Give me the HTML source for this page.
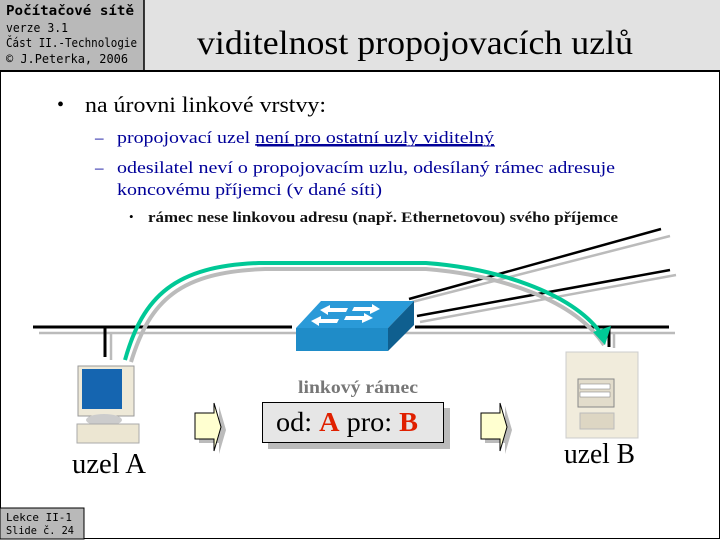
<!DOCTYPE html>
<html><head><meta charset="utf-8"><style>
html,body{margin:0;padding:0;background:#fff}
svg{display:block}
</style></head><body>
<svg width="720" height="540" xmlns="http://www.w3.org/2000/svg" font-family="Liberation Serif, serif">
<rect x="0" y="0" width="720" height="540" fill="#fff"/>
<rect x="0.5" y="0.5" width="719" height="538" fill="none" stroke="#000"/>
<rect x="0" y="0" width="720" height="71" fill="#e2e2e2"/>
<rect x="0" y="0" width="144" height="71" fill="#b9b9b9"/>
<line x1="144" y1="0" x2="144" y2="71" stroke="#000" stroke-width="1.5"/>
<line x1="0" y1="71" x2="720" y2="71" stroke="#000" stroke-width="2"/>
<g font-family="DejaVu Sans Mono, Liberation Mono, monospace" fill="#000">
<text x="6" y="15" font-size="13" font-weight="bold" textLength="128" lengthAdjust="spacingAndGlyphs">Počítačové sítě</text>
<text x="6" y="32" font-size="12" textLength="62" lengthAdjust="spacingAndGlyphs">verze 3.1</text>
<text x="6" y="47" font-size="12" textLength="131" lengthAdjust="spacingAndGlyphs">Část II.-Technologie</text>
<text x="6" y="63" font-size="12" textLength="122" lengthAdjust="spacingAndGlyphs">© J.Peterka, 2006</text>
</g>
<text x="197" y="54" font-size="34" textLength="436" lengthAdjust="spacingAndGlyphs">viditelnost propojovacích uzlů</text>

<text x="57" y="111" font-size="20">•</text>
<text x="85" y="112" font-size="22" textLength="241" lengthAdjust="spacingAndGlyphs">na úrovni linkové vrstvy:</text>
<g fill="#000099" font-size="17">
<text x="95" y="143">–</text>
<text x="117" y="143" textLength="377" lengthAdjust="spacingAndGlyphs">propojovací uzel <tspan text-decoration="underline">není pro ostatní uzly viditelný</tspan></text>
<line x1="257" y1="146" x2="495" y2="146" stroke="#000099" stroke-width="1"/>
<text x="95" y="173">–</text>
<text x="117" y="173" textLength="498" lengthAdjust="spacingAndGlyphs">odesilatel neví o propojovacím uzlu, odesílaný rámec adresuje</text>
<text x="117" y="195" textLength="265" lengthAdjust="spacingAndGlyphs">koncovému příjemci (v dané síti)</text>
</g>
<text x="129" y="221" font-size="13">•</text>
<text x="148" y="222" font-size="15" font-weight="bold" textLength="470" lengthAdjust="spacingAndGlyphs" fill="#111">rámec nese linkovou adresu (např. Ethernetovou) svého příjemce</text>

<line x1="412" y1="302" x2="670" y2="236" stroke="#bbb" stroke-width="2.5"/>
<line x1="420" y1="322" x2="676" y2="275" stroke="#bbb" stroke-width="2.5"/>
<line x1="409" y1="299" x2="661" y2="229" stroke="#000" stroke-width="2.5"/>
<line x1="417" y1="316" x2="670" y2="270" stroke="#000" stroke-width="2.5"/>
<line x1="39" y1="333" x2="675" y2="333" stroke="#bbb" stroke-width="2.5"/>
<line x1="33" y1="327" x2="292" y2="327" stroke="#000" stroke-width="3"/>
<line x1="415" y1="327" x2="669" y2="327" stroke="#000" stroke-width="3"/>
<line x1="111" y1="333" x2="111" y2="360" stroke="#bbb" stroke-width="2.5"/>
<line x1="105" y1="327" x2="105" y2="357" stroke="#000" stroke-width="3"/>
<line x1="614" y1="333" x2="614" y2="348" stroke="#bbb" stroke-width="2.5"/>
<line x1="609" y1="327" x2="609" y2="347" stroke="#000" stroke-width="3"/>

<path d="M131 362 C150 300 180 272 265 269 L426 269 C500 275 575 300 604 345" fill="none" stroke="#bbb" stroke-width="4"/>
<path d="M125 360 C143 296 175 266 259 263 L426 263 C495 268 570 292 600 332" fill="none" stroke="#00c896" stroke-width="4"/>
<polygon points="593,332 611,326 605,345" fill="#00c896"/>

<polygon points="321,301 414,301 388,328 296,328" fill="#2a9ad8"/>
<rect x="296" y="328" width="92" height="23" fill="#1f8cc8"/>
<polygon points="388,328 414,301 414,325 388,351" fill="#0f5f8f"/>
<g fill="#fff">
<polygon points="320,310 330,305 330,308 348,308 346,312 328,312 328,315"/>
<polygon points="380,309 370,314 370,311 352,311 354,307 372,307 372,304"/>
<polygon points="311,321 321,316 321,319 339,319 337,323 319,323 319,326"/>
<polygon points="373,318 362,323 362,320 344,320 346,316 364,316 364,313"/>
</g>

<g>
<rect x="78" y="366" width="56" height="50" fill="#eee9d8" stroke="#999"/>
<rect x="82" y="369" width="40" height="40" fill="#1565b0"/>
<ellipse cx="104" cy="420" rx="18" ry="6" fill="#ccc"/>
<rect x="77" y="424" width="62" height="19" fill="#ece6d2" stroke="#aaa"/>
</g>
<g>
<rect x="566" y="352" width="72" height="86" fill="#f1ecdc" stroke="#ccc"/>
<rect x="578" y="379" width="36" height="28" fill="#e2dccb" stroke="#888"/>
<rect x="580" y="384" width="30" height="5" fill="#fff" stroke="#777" stroke-width=".5"/>
<rect x="580" y="392" width="30" height="5" fill="#fff" stroke="#777" stroke-width=".5"/>
<rect x="580" y="413" width="34" height="16" fill="#ddd6c3" stroke="#bbb"/>
</g>

<text x="72" y="473" font-size="28" textLength="74" lengthAdjust="spacingAndGlyphs">uzel A</text>
<text x="564" y="463" font-size="28" textLength="71" lengthAdjust="spacingAndGlyphs">uzel B</text>

<text x="298" y="393" font-size="18" font-weight="bold" fill="#777" textLength="120" lengthAdjust="spacingAndGlyphs">linkový rámec</text>
<rect x="268" y="408" width="182" height="41" fill="#bbb"/>
<rect x="262.5" y="402.5" width="181" height="40" fill="#e6e6e6" stroke="#000"/>
<text x="276" y="431" font-size="27" textLength="142" lengthAdjust="spacingAndGlyphs">od: <tspan fill="#e02000" font-weight="bold">A</tspan> pro: <tspan fill="#e02000" font-weight="bold">B</tspan></text>

<g>
<polygon points="199,418 219,418 219,406 226,430 219,454 219,443 199,443" fill="#bbb"/>
<polygon points="195,413 214,413 214,403 221,427 214,451 214,439 195,439" fill="#ffffd0" stroke="#000"/>
<polygon points="485,418 505,418 505,406 512,430 505,454 505,443 485,443" fill="#bbb"/>
<polygon points="481,413 500,413 500,403 507,427 500,451 500,439 481,439" fill="#ffffd0" stroke="#000"/>
</g>

<rect x="0" y="508" width="84" height="31" fill="#b9b9b9" stroke="#000"/>
<g font-family="DejaVu Sans Mono, Liberation Mono, monospace" font-size="11">
<text x="6" y="521" textLength="66" lengthAdjust="spacingAndGlyphs">Lekce II-1</text>
<text x="6" y="534" textLength="68" lengthAdjust="spacingAndGlyphs">Slide č. 24</text>
</g>
</svg>
</body></html>
